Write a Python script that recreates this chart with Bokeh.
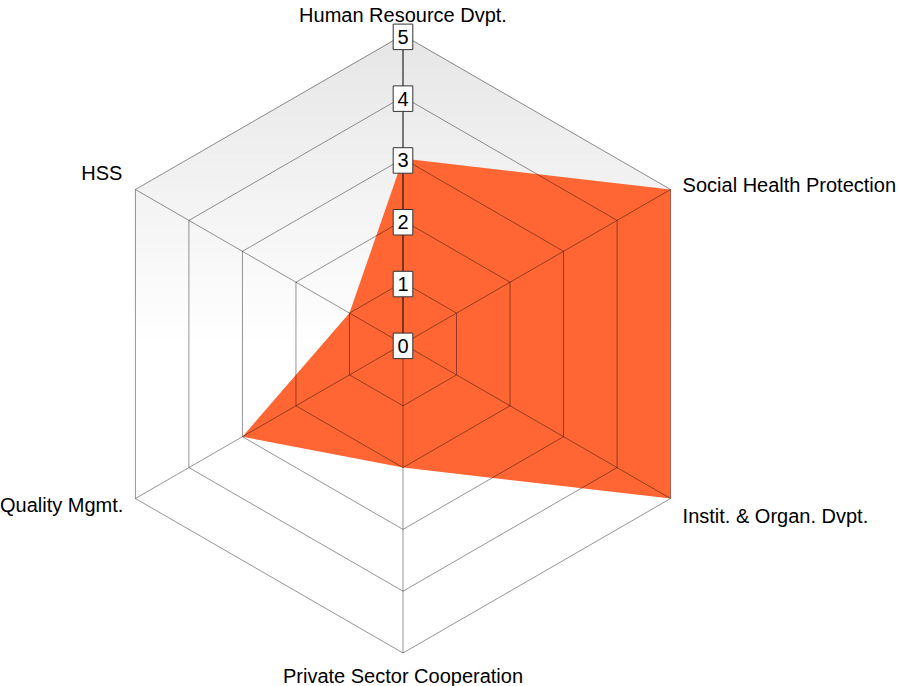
import math
from bokeh.plotting import figure
from bokeh.models import Range1d, ColumnDataSource
from bokeh.core.properties import value
from bokeh.embed import file_html
from bokeh.resources import INLINE

# ---- data ----
categories = ["Human Resource Dvpt.", "Social Health Protection", "Instit. & Organ. Dvpt.",
              "Private Sector Cooperation", "Quality Mgmt.", "HSS"]
scores = [3, 5, 5, 2, 3, 1]
levels = [0, 1, 2, 3, 4, 5]
level_labels = ["0", "1", "2", "3", "4", "5"]
max_level = 5

# ---- geometry / style ----
W, H = 898, 686
UNIT = 61.8                     # px per score unit
CX, CY = 402.5, 343.5           # center in figure px (from top-left)
FONT = "Liberation Sans"
ORANGE = "#FF6633"

n = len(categories)
angles = [math.pi / 2 - 2 * math.pi * i / n for i in range(n)]

p = figure(width=W, height=H, output_backend="svg", toolbar_location=None,
           x_range=Range1d(-CX / UNIT, (W - CX) / UNIT),
           y_range=Range1d(-(H - CY) / UNIT, CY / UNIT),
           min_border=0, outline_line_color=None)
p.axis.visible = False
p.grid.visible = False
p.background_fill_color = "white"
p.border_fill_color = "white"

# ---- gradient background inside outer hexagon (upper half) ----
R = max_level
def half_w(y):
    if abs(y) <= R / 2:
        return R * math.cos(math.pi / 6)
    return math.sqrt(3) * (R - abs(y))

nstrips = 60
xs_g, ys_g, cols_g = [], [], []
top_c, bot_c = 230, 255
for k in range(nstrips):
    y0 = R * k / nstrips
    y1 = R * (k + 1) / nstrips
    pts_y = [y0, y1]
    if y0 < R / 2 < y1:
        pts_y = [y0, R / 2, y1]
    right = [(half_w(y), y) for y in pts_y]
    left = [(-half_w(y), y) for y in reversed(pts_y)]
    poly = right + left
    xs_g.append([pt[0] for pt in poly])
    ys_g.append([pt[1] for pt in poly])
    t = (y0 + y1) / 2 / R
    c = int(round(bot_c + (top_c - bot_c) * t))
    cols_g.append("#%02x%02x%02x" % (c, c, c))
p.patches(xs_g, ys_g, fill_color=cols_g, line_color=cols_g, line_width=1)

# ---- data polygon ----
dx = [s * math.cos(a) for s, a in zip(scores, angles)]
dy = [s * math.sin(a) for s, a in zip(scores, angles)]
p.patch(dx, dy, fill_color=ORANGE, line_color=None)

# ---- grid hexagons ----
for lv in levels[1:]:
    hx = [lv * math.cos(a) for a in angles] + [lv * math.cos(angles[0])]
    hy = [lv * math.sin(a) for a in angles] + [lv * math.sin(angles[0])]
    p.line(hx, hy, line_color="black", line_alpha=0.42, line_width=1)

# ---- spokes ----
for a in angles[1:]:
    p.line([0, R * math.cos(a)], [0, R * math.sin(a)], line_color="black",
           line_alpha=0.42, line_width=1)
p.line([0, 0], [0, R], line_color="black", line_width=1)

# ---- level labels (boxed) ----
bw, bh = 19.6 / UNIT, 25.5 / UNIT
src = ColumnDataSource(dict(x=[0] * len(levels), y=[lv - 0.03 for lv in levels],
                            t=level_labels))
p.rect(x="x", y="y", width=bw, height=bh, source=src, fill_color="white",
       line_color="#333333", line_width=1)
p.text(x="x", y="y", text="t", source=src, text_font=value(FONT),
       text_font_size="20px", text_align="center", text_baseline="middle",
       text_color="black")

# ---- category labels ----
# pixel offsets from outer vertex (dx right, dy down), alignment
label_style = [
    (0, -20.5, "center"),
    (12, -4.3, "left"),
    (12, 17.7, "left"),
    (0, 22.5, "center"),
    (-12, 6.7, "right"),
    (-13, -17, "right"),
]
for cat, a, (ox, oy, al) in zip(categories, angles, label_style):
    lx = R * math.cos(a) + ox / UNIT
    ly = R * math.sin(a) - oy / UNIT
    p.text(x=[lx], y=[ly], text=[cat], text_font=value(FONT),
           text_font_size="20px", text_align=al, text_baseline="alphabetic",
           text_color="black")

open("out.html", "w").write(file_html(p, INLINE))
